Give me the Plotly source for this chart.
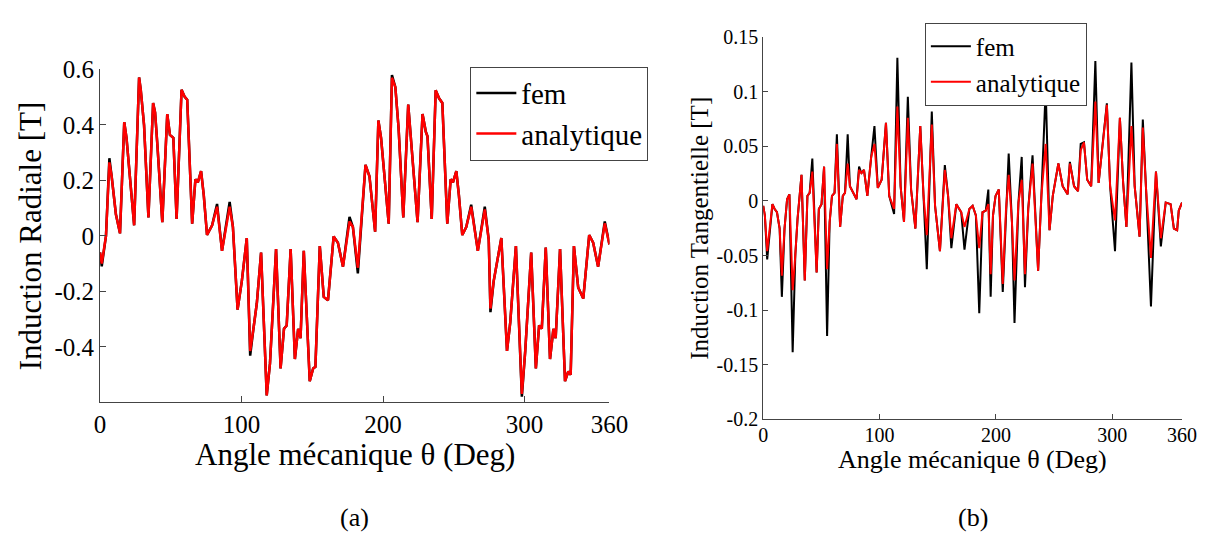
import plotly.graph_objects as go

# ---------------- (a) radial induction ----------------
rad_theta = [0, 1.2, 4.2, 6.6, 8.2, 11.2, 14.1, 17.1, 18.7, 24.1, 27.6, 28.8, 31.1, 34.2, 37.5,
             38.9, 40.5, 44.0, 47.5, 49.4, 51.8, 54.1, 57.6, 59.7, 61.6, 65.1, 67.4, 69.1, 71.4,
             73.3, 75.6, 79.2, 82.7, 86.2, 91.6, 93.9, 97.2, 100.2, 103.7, 106.1, 108.4, 110.8,
             113.8, 117.8, 120.1, 124.4, 127.6, 130.0, 131.9, 134.7, 137.7, 140.0, 141.7, 144.0,
             148.2, 150.6, 152.2, 155.3, 158.1, 161.1, 165.1, 168.1, 171.7, 176.3, 178.7, 182.2,
             187.6, 190.4, 194.4, 196.7, 198.6, 204.0, 206.3, 208.7, 211.0, 214.3, 217.8, 220.1,
             224.4, 227.9, 230.2, 231.4, 234.4, 237.2, 239.6, 241.9, 245.4, 247.8, 249.4, 251.8,
             253.6, 256.0, 258.8, 262.3, 267.0, 271.9, 274.7, 275.9, 278.2, 283.6, 287.6, 289.9,
             293.9, 298.1, 300.5, 304.7, 308.0, 310.3, 312.2, 315.0, 318.0, 320.4, 322.0, 325.1,
             328.6, 330.9, 332.6, 334.9, 337.9, 341.5, 345.7, 348.5, 352.0, 356.7, 360.0]
rad_ana = [-0.06, -0.1, 0.0, 0.265, 0.215, 0.078, 0.009, 0.41, 0.353, 0.038, 0.571, 0.525, 0.399,
           0.066, 0.479, 0.445, 0.33, 0.049, 0.439, 0.364, 0.353, 0.061, 0.527, 0.502, 0.491,
           0.044, 0.204, 0.193, 0.233, 0.147, 0.003, 0.038, 0.105, -0.054, 0.105, 0.032, -0.266,
           -0.163, -0.008, -0.415, -0.335, -0.243, -0.06, -0.575, -0.46, -0.048, -0.478, -0.335,
           -0.323, -0.048, -0.444, -0.335, -0.369, -0.054, -0.524, -0.478, -0.472, -0.037, -0.22,
           -0.232, -0.002, -0.025, -0.111, 0.052, 0.032, -0.115, 0.256, 0.215, 0.015, 0.416,
           0.353, 0.044, 0.57, 0.536, 0.387, 0.066, 0.473, 0.33, 0.049, 0.439, 0.376, 0.359,
           0.061, 0.525, 0.496, 0.479, 0.044, 0.204, 0.193, 0.233, 0.147, 0.003, 0.032, 0.105,
           -0.054, 0.095, -0.014, -0.262, -0.163, -0.008, -0.415, -0.312, -0.037, -0.57, -0.415,
           -0.06, -0.478, -0.323, -0.335, -0.042, -0.444, -0.335, -0.369, -0.048, -0.524, -0.489,
           -0.501, -0.037, -0.186, -0.226, 0.003, -0.025, -0.111, 0.045, -0.031]
rad_fem = [-0.06, -0.11, 0.0, 0.28, 0.215, 0.078, 0.009, 0.41, 0.353, 0.038, 0.571, 0.525, 0.399,
           0.066, 0.479, 0.445, 0.33, 0.049, 0.439, 0.364, 0.353, 0.061, 0.527, 0.502, 0.491,
           0.044, 0.204, 0.193, 0.233, 0.147, 0.003, 0.038, 0.115, -0.054, 0.122, 0.032, -0.266,
           -0.163, -0.008, -0.432, -0.335, -0.243, -0.06, -0.575, -0.46, -0.048, -0.478, -0.335,
           -0.323, -0.048, -0.444, -0.335, -0.369, -0.054, -0.524, -0.478, -0.472, -0.037, -0.22,
           -0.232, -0.002, -0.025, -0.111, 0.068, 0.032, -0.135, 0.256, 0.215, 0.015, 0.416,
           0.353, 0.044, 0.58, 0.536, 0.387, 0.066, 0.473, 0.33, 0.049, 0.439, 0.376, 0.359,
           0.061, 0.525, 0.496, 0.479, 0.044, 0.204, 0.193, 0.233, 0.147, 0.003, 0.032, 0.112,
           -0.054, 0.105, -0.014, -0.275, -0.163, -0.008, -0.415, -0.312, -0.037, -0.58, -0.415,
           -0.06, -0.478, -0.323, -0.335, -0.042, -0.444, -0.335, -0.369, -0.048, -0.524, -0.489,
           -0.501, -0.037, -0.186, -0.226, 0.003, -0.025, -0.111, 0.052, -0.031]

# ---------------- (b) tangential induction ----------------
tan_theta = [0, 1.4, 3.4, 5.6, 7.9, 9.8, 11.8, 14.1, 16.0, 18.3, 20.5, 22.5, 25.3, 27.6, 29.5,
             32.9, 35.7, 38.0, 39.9, 42.2, 44.2, 45.9, 47.8, 50.1, 52.3, 54.9, 57.1, 59.1, 61.3,
             63.3, 66.1, 68.4, 70.3, 72.6, 74.5, 77.4, 80.2, 82.4, 84.4, 86.6, 89.5, 92.8, 95.6,
             98.5, 101.8, 105.5, 108.3, 112.5, 115.3, 118.1, 121.0, 124.3, 127.1, 130.8, 135.0,
             137.8, 140.6, 144.9, 147.7, 151.9, 156.1, 158.9, 161.7, 166.0, 170.2, 173.0, 177.2,
             180.0, 182.8, 185.7, 188.5, 191.3, 193.5, 195.5, 197.5, 199.7, 202.5, 205.9, 208.7,
             211.0, 213.8, 216.0, 219.4, 222.2, 225.0, 227.8, 231.5, 236.3, 239.1, 242.8, 246.1,
             248.9, 253.7, 257.4, 261.6, 263.6, 267.2, 270.6, 272.9, 275.7, 278.5, 281.9, 285.5,
             288.3, 295.4, 298.2, 302.4, 306.6, 309.4, 312.2, 316.5, 319.3, 323.5, 326.3, 329.1,
             333.3, 337.6, 341.8, 346.0, 350.2, 353.0, 355.8, 357.2, 360.0]
tan_ana = [-0.0045, -0.0134, -0.0461, -0.0253, -0.003, -0.0074, -0.0104, -0.0253, -0.0685,
           -0.0253, 0.0015, 0.006, -0.0818, -0.0491, -0.0164, 0.0238, -0.0729, 0.0045, 0.0074,
           0.0268, -0.0253, -0.0655, -0.0074, -0.003, 0.0313, -0.0625, -0.0193, 0.0045, 0.0074,
           0.0521, -0.0238, 0.0045, 0.0074, 0.0342, 0.0134, 0.0074, 0.0015, 0.0283, 0.0253,
           0.0283, 0.0045, 0.0402, 0.0521, 0.0119, 0.0193, 0.0714, 0.0045, -0.0074, 0.0863,
           0.0134, -0.0193, 0.0759, 0.0104, -0.0253, 0.0685, 0.0045, -0.0313, 0.0699, -0.0045,
           -0.0461, 0.0283, 0.0045, -0.0342, -0.003, -0.0104, -0.0238, -0.0074, -0.0045, -0.0134,
           -0.0432, -0.0104, -0.0089, -0.003, -0.067, -0.0134, 0.0045, 0.0104, -0.0759, -0.0074,
           0.0238, -0.0193, -0.0729, -0.0015, 0.0193, -0.067, -0.0074, 0.0342, -0.064, 0.0045,
           0.0521, -0.0268, 0.0045, 0.0342, 0.0134, 0.006, 0.0342, 0.0134, 0.0089, 0.0461,
           0.0536, 0.0193, 0.0134, 0.0908, 0.0164, 0.0878, 0.0134, -0.0179, 0.0759, 0.0164,
           -0.0238, 0.0685, 0.0134, -0.0327, 0.067, 0.0104, -0.0521, 0.0268, -0.0342, -0.0015,
           -0.003, -0.0253, -0.0268, -0.0089, -0.0015]
tan_fem = [-0.0045, -0.0134, -0.0536, -0.0253, -0.003, -0.0074, -0.0104, -0.0253, -0.0878,
           -0.0253, 0.0015, 0.006, -0.1384, -0.0491, -0.0164, 0.0238, -0.0729, 0.0045, 0.0074,
           0.0387, -0.0253, -0.0655, -0.0074, -0.003, 0.0313, -0.1235, -0.0193, 0.0045, 0.0074,
           0.061, -0.0238, 0.0045, 0.0074, 0.061, 0.0134, 0.0074, 0.0015, 0.0313, 0.0253,
           0.0283, 0.0045, 0.0402, 0.0685, 0.0119, 0.0193, 0.0714, 0.0045, -0.0119, 0.131,
           0.0134, -0.0193, 0.0952, 0.0104, -0.0253, 0.0685, 0.0045, -0.0625, 0.0818, -0.0045,
           -0.0461, 0.0327, 0.0045, -0.0432, -0.003, -0.0104, -0.0446, -0.0074, -0.0045, -0.0134,
           -0.1027, -0.0104, -0.0089, 0.0104, -0.0878, -0.0134, 0.0045, 0.0104, -0.0833, -0.0074,
           0.0432, -0.0193, -0.1116, -0.0015, 0.0402, -0.0789, -0.0074, 0.0417, -0.064, 0.0045,
           0.1027, -0.0268, 0.0045, 0.0342, 0.0134, 0.006, 0.0357, 0.0134, 0.0089, 0.0521,
           0.0536, 0.0193, 0.0134, 0.128, 0.0164, 0.0893, 0.0134, -0.0461, 0.0759, 0.0164,
           -0.0238, 0.1265, 0.0134, -0.0327, 0.0744, 0.0104, -0.0967, 0.0268, -0.0417, -0.0015,
           -0.003, -0.0253, -0.0268, -0.0089, -0.0015]

x_ticks = [0, 100, 200, 300, 360]
rad_yticks = [-0.4, -0.2, 0, 0.2, 0.4, 0.6]
rad_ytext = ["-0.4", "-0.2", "0", "0.2", "0.4", "0.6"]
tan_yticks = [-0.2, -0.15, -0.1, -0.05, 0, 0.05, 0.1, 0.15]
tan_ytext = ["-0.2", "-0.15", "-0.1", "-0.05", "0", "0.05", "0.1", "0.15"]

FONT = "Liberation Serif, Times New Roman, serif"
W, H = 1226, 551
AX = "#444444"

fig = go.Figure()
fig.add_trace(go.Scatter(x=rad_theta, y=rad_fem, mode="lines", name="fem",
                         line=dict(color="black", width=2.5), xaxis="x", yaxis="y", legend="legend"))
fig.add_trace(go.Scatter(x=rad_theta, y=rad_ana, mode="lines", name="analytique",
                         line=dict(color="#ff0000", width=2.5), xaxis="x", yaxis="y", legend="legend"))
fig.add_trace(go.Scatter(x=tan_theta, y=tan_fem, mode="lines", name="fem",
                         line=dict(color="black", width=2), xaxis="x2", yaxis="y2", legend="legend2"))
fig.add_trace(go.Scatter(x=tan_theta, y=tan_ana, mode="lines", name="analytique",
                         line=dict(color="#ff0000", width=2), xaxis="x2", yaxis="y2", legend="legend2"))

def px(x):
    return x / W

def py(y):
    return 1 - y / H

common = dict(showline=True, linecolor=AX, linewidth=1, ticks="inside", tickcolor=AX,
              showgrid=False, zeroline=False, mirror=False)

def tf(size):
    return dict(size=size, family=FONT, color="black")

fig.update_layout(
    width=W, height=H, margin=dict(l=0, r=0, t=0, b=0),
    paper_bgcolor="white", plot_bgcolor="white",
    font=dict(family=FONT, color="black"),
    xaxis=dict(domain=[px(96), px(616)], range=[0, 360], tickvals=x_ticks,
               tickfont=tf(25), ticklen=6, anchor="y", ticklabelstandoff=0, **common),
    yaxis=dict(domain=[py(407), py(59)], range=[-0.6, 0.6], tickvals=rad_yticks,
               ticktext=rad_ytext, tickfont=tf(25), ticklen=6, anchor="x", **common),
    xaxis2=dict(domain=[px(773), px(1200.5)], range=[0, 360], tickvals=x_ticks,
                tickfont=tf(20), ticklen=5, anchor="y2", ticklabelstandoff=-2, **common),
    yaxis2=dict(domain=[py(425), py(25)], range=[-0.2, 0.15], tickvals=tan_yticks,
                ticktext=tan_ytext, tickfont=tf(20), ticklen=5, anchor="x2", **common),
    legend=dict(x=px(474), y=py(56), xanchor="left", yanchor="top",
                bordercolor=AX, borderwidth=1, bgcolor="white", itemwidth=40,
                font=tf(29), tracegroupgap=0),
    legend2=dict(x=px(938), y=py(10), xanchor="left", yanchor="top",
                 bordercolor=AX, borderwidth=1, bgcolor="white", itemwidth=40,
                 font=tf(25), tracegroupgap=0),
    showlegend=True,
)

annos = [
    dict(text="Induction Radiale [T]", x=px(25), y=py(233), textangle=-90, size=31),
    dict(text="Angle mécanique θ (Deg)", x=px(356), y=py(462), textangle=0, size=31),
    dict(text="Induction Tangentielle [T]", x=px(708), y=py(225), textangle=-90, size=25),
    dict(text="Angle mécanique θ (Deg)", x=px(987), y=py(467), textangle=0, size=26),
    dict(text="(a)", x=px(356), y=py(527), textangle=0, size=26),
    dict(text="(b)", x=px(987), y=py(527), textangle=0, size=26),
]
for a in annos:
    fig.add_annotation(text=a["text"], x=a["x"], y=a["y"], xref="paper", yref="paper",
                       xanchor="center", yanchor="middle", showarrow=False,
                       textangle=a["textangle"], font=tf(a["size"]))

fig.write_html("out.html", config={"displayModeBar": False},
               post_script="document.body.style.margin='0';document.body.style.overflow='hidden';")
